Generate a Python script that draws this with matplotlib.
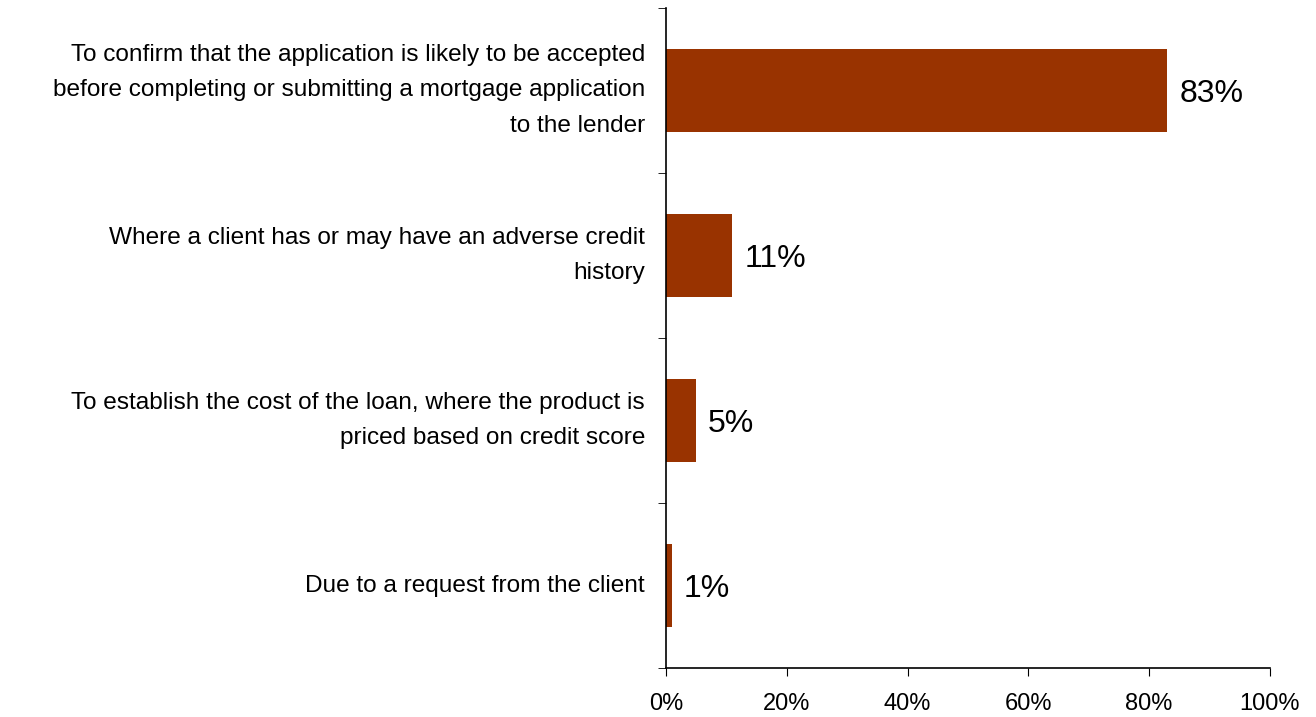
import matplotlib.pyplot as plt
import numpy as np

plt.rcParams['font.family'] = ['Liberation Sans', 'DejaVu Sans']

reasons = [
    'To confirm that the application is likely to be accepted\n'
    'before completing or submitting a mortgage application\n'
    'to the lender',
    'Where a client has or may have an adverse credit\nhistory',
    'To establish the cost of the loan, where the product is\n'
    'priced based on credit score',
    'Due to a request from the client',
]
shares = [83, 11, 5, 1]
x_ticks = [0, 20, 40, 60, 80, 100]

fig = plt.figure(figsize=(13.16, 7.17), dpi=100)
ax = fig.add_axes([0.506, 0.0683, 0.459, 0.9207])

y = np.arange(len(reasons))[::-1]
ax.barh(y, shares, height=0.5, color='#993300')

for yi, v in zip(y, shares):
    ax.text(v + 2, yi, '%d%%' % v, va='center_baseline', ha='left', fontsize=23)

ax.set_xlim(0, 100)
ax.set_ylim(-0.5, len(reasons) - 0.5)
ax.set_xticks(x_ticks)
ax.set_xticklabels(['%d%%' % t for t in x_ticks], fontsize=17)
ax.tick_params(axis='x', direction='out', length=6, pad=12)

# category names sit between the boundary ticks
ax.set_yticks(y)
ax.set_yticklabels(reasons, fontsize=17.6, linespacing=1.78, ha='right', va='center')
ax.set_yticks(np.arange(len(reasons) + 1) - 0.5, minor=True)
ax.tick_params(axis='y', which='major', length=0, pad=15)
ax.tick_params(axis='y', which='minor', direction='out', length=6)

for side in ['top', 'right']:
    ax.spines[side].set_visible(False)
for side in ['left', 'bottom']:
    ax.spines[side].set_linewidth(1.2)

fig.savefig('out.png', dpi=100)
